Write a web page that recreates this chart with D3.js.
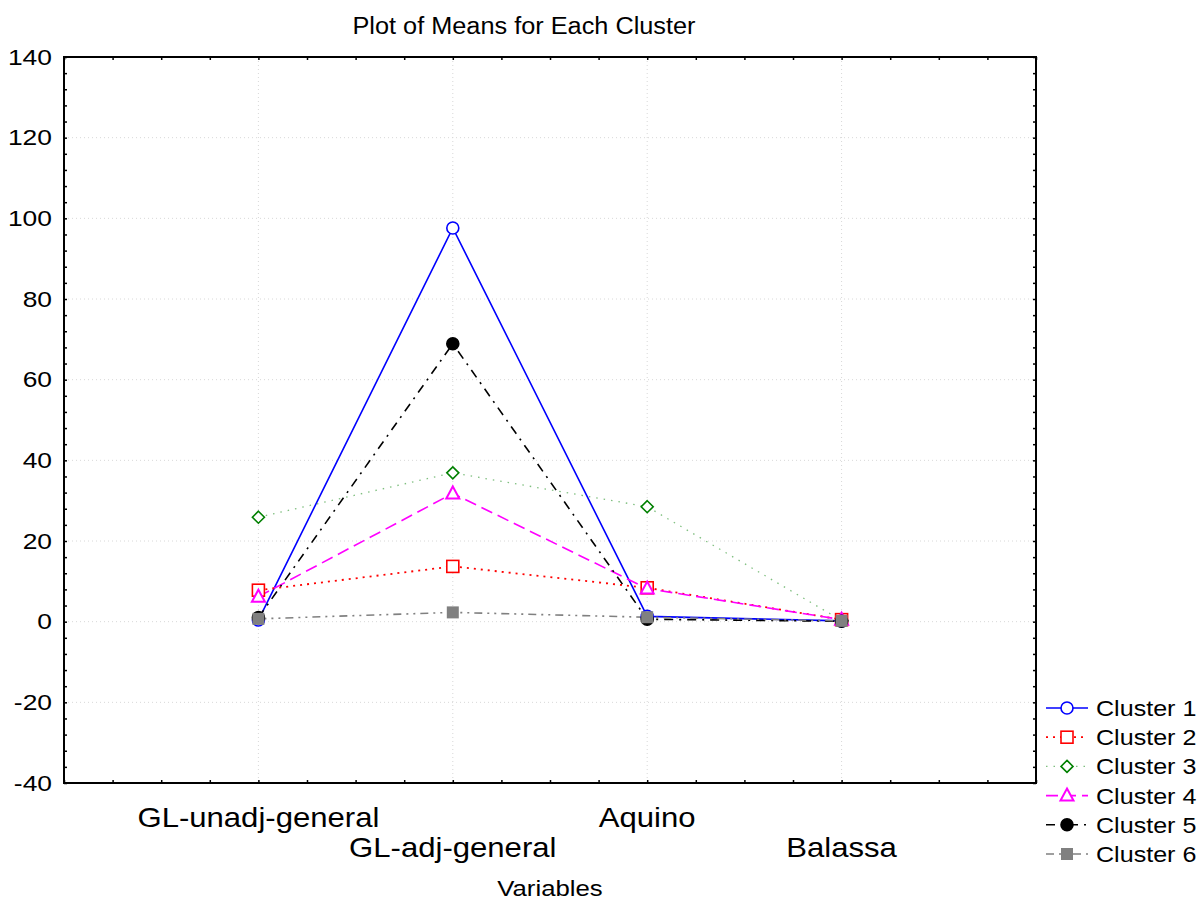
<!DOCTYPE html>
<html lang="en"><head><meta charset="UTF-8">
<script src="https://d3js.org/d3.v7.min.js"></script>
<style>
  body { margin: 0; background: #fff; }
  svg text { font-family: "Liberation Sans", Arial, sans-serif; }
</style>
</head>
<body>
<div id="chart"></div>
<script>
// data
const variables = ["GL-unadj-general", "GL-adj-general", "Aquino", "Balassa"];
const clusterNames = ["Cluster 1", "Cluster 2", "Cluster 3", "Cluster 4", "Cluster 5", "Cluster 6"];
const cluster1 = [0.4, 97.6, 1.3, 0.2];
const cluster2 = [7.8, 13.7, 8.4, 0.5];
const cluster3 = [25.9, 36.9, 28.5, 0.3];
const cluster4 = [6.2, 31.8, 8.2, 0.5];
const cluster5 = [1.0, 68.9, 0.6, 0.1];
const cluster6 = [0.7, 2.3, 1.1, 0.2];
const yTicks = [-40, -20, 0, 20, 40, 60, 80, 100, 120, 140];

const series = [
  { name: clusterNames[0], values: cluster1, color: "#0000ff", dash: null, width: 1.6, marker: "circle", fill: "#fff" },
  { name: clusterNames[1], values: cluster2, color: "#ff0000", dash: "2,5", width: 1.8, marker: "square", fill: "#fff" },
  { name: clusterNames[2], values: cluster3, color: "#008000", line: "#7fbf7f", dash: "1.5,6", width: 1.3, marker: "diamond", fill: "#fff" },
  { name: clusterNames[3], values: cluster4, color: "#ff00ff", dash: "12,6", width: 1.6, marker: "triangle", fill: "#fff" },
  { name: clusterNames[4], values: cluster5, color: "#000000", dash: "9,6,2,6", width: 1.6, marker: "circle", fill: "#000" },
  { name: clusterNames[5], values: cluster6, color: "#808080", dash: "8,5,2,5,2,5", width: 1.6, marker: "square", fill: "#808080" }
];

const width = 1202, height = 901;
const margin = { top: 57, right: 166, bottom: 118, left: 64 };

const svg = d3.select("#chart").append("svg")
  .attr("width", width).attr("height", height)
  .attr("viewBox", [0, 0, width, height]);

// the reference font is drawn a bit wider than Arial
function stretch(sel, k) {
  sel.each(function () {
    const len = this.getComputedTextLength();
    d3.select(this).attr("textLength", len * k).attr("lengthAdjust", "spacingAndGlyphs");
  });
}

const x = d3.scaleLinear().domain([0, 5]).range([margin.left, width - margin.right]);
const y = d3.scaleLinear().domain([-40, 140]).range([height - margin.bottom, margin.top]);

// grid
svg.append("g")
  .selectAll("line").data(yTicks.slice(1, -1)).join("line")
  .attr("x1", margin.left).attr("x2", width - margin.right)
  .attr("y1", d => y(d)).attr("y2", d => y(d))
  .attr("stroke", "#d8d8d8").attr("stroke-dasharray", "1,3");
svg.append("g")
  .selectAll("line").data(variables).join("line")
  .attr("x1", (d, i) => x(i + 1)).attr("x2", (d, i) => x(i + 1))
  .attr("y1", margin.top).attr("y2", height - margin.bottom)
  .attr("stroke", "#d8d8d8").attr("stroke-dasharray", "1,3");

// axes, ticks pointing inward
const yMinor = d3.range(-40, 141, 4);
const xMinor = d3.range(0, 5.01, 0.25);

svg.append("g")
  .attr("transform", `translate(${margin.left},0)`)
  .call(d3.axisRight(y).tickValues(yMinor).tickSize(3).tickFormat(""))
  .call(g => g.select(".domain").remove());
svg.append("g")
  .attr("transform", `translate(${margin.left},0)`)
  .call(d3.axisLeft(y).tickValues(yTicks).tickSize(0).tickPadding(12).tickFormat(d => String(d)))
  .call(g => g.select(".domain").remove())
  .call(g => g.selectAll("text").attr("font-size", 22).attr("fill", "#000").call(stretch, 1.2));
svg.append("g")
  .attr("transform", `translate(${width - margin.right},0)`)
  .call(d3.axisLeft(y).tickValues(yMinor).tickSize(3).tickFormat(""))
  .call(g => g.select(".domain").remove());
svg.append("g")
  .attr("transform", `translate(0,${height - margin.bottom})`)
  .call(d3.axisTop(x).tickValues(xMinor).tickSize(3).tickFormat(""))
  .call(g => g.select(".domain").remove());
svg.append("g")
  .attr("transform", `translate(0,${margin.top})`)
  .call(d3.axisBottom(x).tickValues(xMinor).tickSize(3).tickFormat(""))
  .call(g => g.select(".domain").remove());
svg.selectAll(".tick line").attr("stroke", "#000").attr("stroke-width", 1.5);

svg.append("rect")
  .attr("x", margin.left).attr("y", margin.top)
  .attr("width", width - margin.left - margin.right)
  .attr("height", height - margin.top - margin.bottom)
  .attr("fill", "none").attr("stroke", "#000").attr("stroke-width", 2);

// category labels, staggered
svg.append("g")
  .selectAll("text").data(variables).join("text")
  .attr("x", (d, i) => x(i + 1))
  .attr("y", (d, i) => i % 2 === 0 ? 827 : 857)
  .attr("text-anchor", "middle").attr("font-size", 28)
  .text(d => d)
  .call(stretch, 1.11);

svg.append("text")
  .attr("x", 524).attr("y", 34)
  .attr("text-anchor", "middle").attr("font-size", 23)
  .text("Plot of Means for Each Cluster")
  .call(stretch, 1.1);
svg.append("text")
  .attr("x", 550).attr("y", 896)
  .attr("text-anchor", "middle").attr("font-size", 22)
  .text("Variables")
  .call(stretch, 1.17);

function drawMarker(g, s, cx, cy) {
  const sw = 1.6;
  if (s.marker === "circle") {
    g.append("circle").attr("cx", cx).attr("cy", cy).attr("r", 6)
      .attr("fill", s.fill).attr("stroke", s.color).attr("stroke-width", sw);
  } else if (s.marker === "square") {
    g.append("rect").attr("x", cx - 6).attr("y", cy - 6).attr("width", 12).attr("height", 12)
      .attr("fill", s.fill).attr("stroke", s.fill === "#fff" ? s.color : "none").attr("stroke-width", sw);
  } else if (s.marker === "diamond") {
    g.append("path").attr("d", `M${cx},${cy - 6}L${cx + 6},${cy}L${cx},${cy + 6}L${cx - 6},${cy}Z`)
      .attr("fill", s.fill).attr("stroke", s.color).attr("stroke-width", sw);
  } else {
    g.append("path").attr("d", `M${cx},${cy - 7}L${cx + 6.5},${cy + 5}L${cx - 6.5},${cy + 5}Z`)
      .attr("fill", s.fill).attr("stroke", s.color).attr("stroke-width", 2);
  }
}

const line = d3.line().x((d, i) => x(i + 1)).y(d => y(d));
const plot = svg.append("g");
series.forEach(s => {
  plot.append("path")
    .attr("d", line(s.values))
    .attr("fill", "none")
    .attr("stroke", s.line || s.color)
    .attr("stroke-width", s.width)
    .attr("stroke-dasharray", s.dash);
});
series.forEach(s => {
  const g = plot.append("g");
  s.values.forEach((v, i) => drawMarker(g, s, x(i + 1), y(v)));
});

// legend
const legend = svg.append("g");
series.forEach((s, i) => {
  const ly = 708 + i * 29.2;
  legend.append("line")
    .attr("x1", 1046).attr("x2", 1088).attr("y1", ly).attr("y2", ly)
    .attr("stroke", s.line || s.color).attr("stroke-width", s.width)
    .attr("stroke-dasharray", s.dash);
  drawMarker(legend, s, 1067, ly);
  legend.append("text")
    .attr("x", 1096).attr("y", ly + 8)
    .attr("font-size", 22)
    .text(s.name)
    .call(stretch, 1.14);
});
</script>
</body>
</html>
